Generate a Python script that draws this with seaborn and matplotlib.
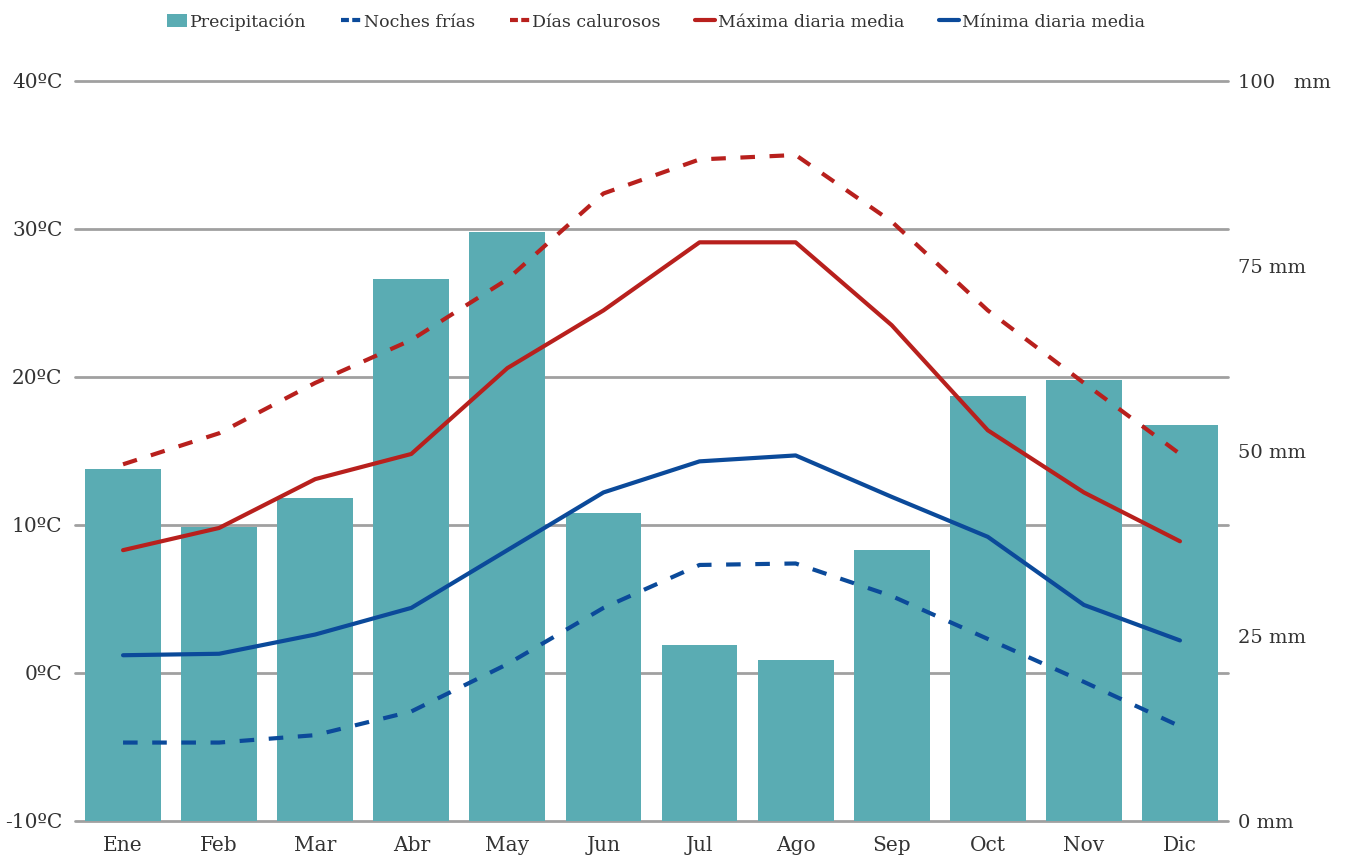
import numpy as np
import pandas as pd
import seaborn as sns
import matplotlib.pyplot as plt
from matplotlib.patches import Patch
from matplotlib.lines import Line2D

months = ["Ene", "Feb", "Mar", "Abr", "May", "Jun", "Jul", "Ago", "Sep", "Oct", "Nov", "Dic"]
precip_mm = [47.6, 39.7, 43.6, 73.2, 79.6, 41.6, 23.8, 21.8, 36.6, 57.4, 59.6, 53.5]
max_mean = [8.3, 9.8, 13.1, 14.8, 20.6, 24.5, 29.1, 29.1, 23.5, 16.4, 12.2, 8.9]
min_mean = [1.2, 1.3, 2.6, 4.4, 8.3, 12.2, 14.3, 14.7, 11.9, 9.2, 4.6, 2.2]
hot_days = [14.1, 16.2, 19.6, 22.5, 26.6, 32.4, 34.7, 35.0, 30.5, 24.5, 19.6, 14.8]
cold_nights = [-4.7, -4.7, -4.2, -2.6, 0.6, 4.4, 7.3, 7.4, 5.2, 2.3, -0.6, -3.6]

temp_ticks = [-10, 0, 10, 20, 30, 40]
mm_ticks = [0, 25, 50, 75, 100]
mm_labels = ["0 mm", "25 mm", "50 mm", "75 mm", "100   mm"]

BAR = "#5aacb3"
RED = "#b8201d"
BLUE = "#0b4a9a"
GRID = "#a0a0a0"
TXT = "#333333"

sns.set_style("white")
plt.rcParams["font.family"] = ["DejaVu Serif", "DejaVu Sans"]

df = pd.DataFrame({"mes": months, "mm": precip_mm, "tmax": max_mean,
                   "tmin": min_mean, "hot": hot_days, "cold": cold_nights})
df["x"] = np.arange(len(months))

fig = plt.figure(figsize=(13.48, 8.58), dpi=100)
ax_p = fig.add_axes([75 / 1348, 1 - 821 / 858, (1228 - 75) / 1348, (821 - 81) / 858])
ax_t = ax_p.twinx()

# precipitation bars on the bottom axes (0-100 mm spans -10..40 °C)
sns.barplot(data=df, x="mes", y="mm", color=BAR, saturation=1, width=0.79,
            linewidth=0, ax=ax_p, zorder=2)
ax_p.set_ylim(0, 100)
ax_p.set_xlim(-0.5, 11.5)
ax_p.set_yticks(mm_ticks)
ax_p.set_yticklabels(mm_labels)
ax_p.yaxis.tick_right()
# grid lines at temperature steps (every 20 mm = 10 °C)
ax_p.yaxis.remove_overlapping_locs = False
ax_p.set_yticks([(t + 10) * 2 for t in temp_ticks], minor=True)
ax_p.grid(which="minor", axis="y", color=GRID, lw=2, zorder=0)
ax_p.grid(which="major", axis="y", visible=False)
ax_p.set_axisbelow(True)
ax_p.tick_params(axis="y", which="both", length=0, pad=7, labelsize=14, labelcolor=TXT)
ax_p.tick_params(axis="x", length=0, pad=11, labelsize=14.5, labelcolor=TXT)
ax_p.set_xlabel("")
ax_p.set_ylabel("")
for tk in ax_p.yaxis.get_minor_ticks():
    tk.gridline.set_clip_on(False)

# temperature lines on top
ax_t.set_zorder(ax_p.get_zorder() + 1)
ax_t.patch.set_visible(False)
lw = 3.0
sns.lineplot(data=df, x="x", y="hot", ax=ax_t, color=RED, lw=lw)
sns.lineplot(data=df, x="x", y="tmax", ax=ax_t, color=RED, lw=lw)
sns.lineplot(data=df, x="x", y="tmin", ax=ax_t, color=BLUE, lw=lw)
sns.lineplot(data=df, x="x", y="cold", ax=ax_t, color=BLUE, lw=lw)
ax_t.lines[0].set_dashes((3.5, 3.5))
ax_t.lines[3].set_dashes((3.5, 3.5))
for ln in ax_t.lines:
    ln.set_solid_joinstyle("round")
ax_t.set_ylim(-10, 40)
ax_t.set_xlim(-0.5, 11.5)
ax_t.set_yticks(temp_ticks)
ax_t.set_yticklabels([f"{t}ºC" for t in temp_ticks])
ax_t.yaxis.tick_left()
ax_t.tick_params(axis="y", length=0, pad=9, labelsize=14.5, labelcolor=TXT)
ax_t.set_xlabel("")
ax_t.set_ylabel("")

for a in (ax_p, ax_t):
    for s in a.spines.values():
        s.set_visible(False)

handles = [
    Patch(facecolor=BAR, edgecolor="none"),
    Line2D([], [], color=BLUE, lw=3, dashes=(1.9, 0.8)),
    Line2D([], [], color=RED, lw=3, dashes=(1.9, 0.8)),
    Line2D([], [], color=RED, lw=3),
    Line2D([], [], color=BLUE, lw=3),
]
labels = ["Precipitación", "Noches frías", "Días calurosos",
          "Máxima diaria media", "Mínima diaria media"]
leg = fig.legend(handles, labels, loc="upper center", bbox_to_anchor=(656 / 1348, 1.003),
                 ncol=5, frameon=False, fontsize=12.5, handlelength=1.15,
                 handletextpad=0.15, columnspacing=2.0, labelcolor=TXT)

fig.savefig("out.png", dpi=100)
